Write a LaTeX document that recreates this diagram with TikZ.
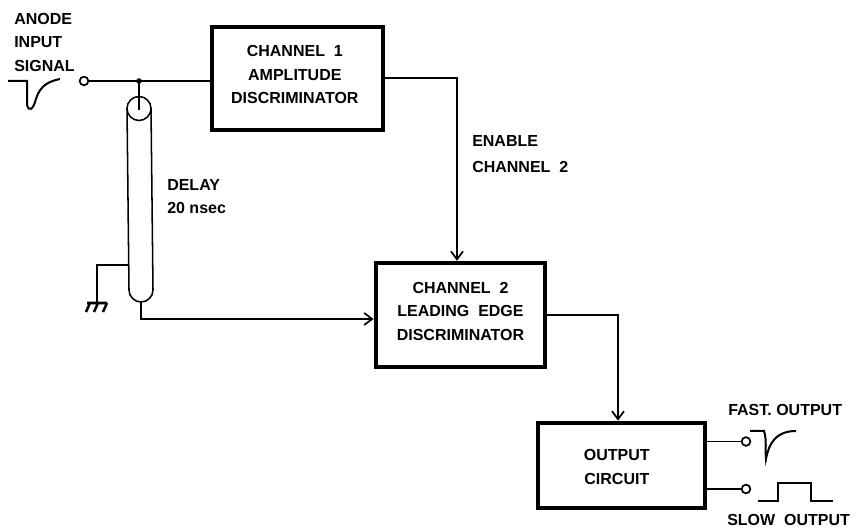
\documentclass[tikz,border=0pt]{standalone}
\usepackage{fontspec}
\setmainfont{Liberation Sans}
\usetikzlibrary{arrows.meta}
\newcommand{\boxtext}[3]{\raisebox{0pt}[\height][\dimexpr\depth+#2+#2\relax]{\hspace*{#1}\begin{tabular}{@{}c@{}}#3\end{tabular}}}
\tikzset{
  x=0.75pt,y=-0.75pt,
  blockbox/.style={draw,line width=3.3pt,minimum width=#1,align=center,font=\fontsize{12}{17.7}\selectfont\bfseries,inner sep=0pt},
  lbl/.style={font=\fontsize{12}{17.5}\selectfont\bfseries,align=left,inner sep=0pt,anchor=north west},
  wire/.style={line width=1.15pt},
  arrowwire/.style={line width=1.15pt,-{Straight Barb[length=6pt,width=9pt,line width=1.3pt]}},
  term/.style={circle,draw,line width=1.3pt,fill=white,minimum size=6.5pt,inner sep=0pt},
  pulse/.style={line width=1.5pt},
}
\begin{document}
\begin{tikzpicture}
\useasboundingbox (0,0) rectangle (857,530);
\node[blockbox=128pt,minimum height=77pt] (ch1) at (297.5,78.5) {\boxtext{-4pt}{2.25pt}{CHANNEL\ \ 1\\AMPLITUDE\\DISCRIMINATOR}};
\node[blockbox=127pt,minimum height=78pt] (ch2) at (460.5,315) {\boxtext{0pt}{2.25pt}{CHANNEL\ \ 2\\LEADING\ \ EDGE\\DISCRIMINATOR}};
\node[blockbox=125pt,minimum height=64pt] (out) at (621.5,465.5) {\boxtext{0pt}{-1.5pt}{OUTPUT\hspace*{7pt}\\CIRCUIT\hspace*{7pt}}};
\node[lbl] (anode) at (14,13) {ANODE\\INPUT\\SIGNAL};
\node[lbl,font=\fontsize{12}{19.5}\selectfont\bfseries] (en) at (472,135) {ENABLE\\CHANNEL\ \ 2};
\node[lbl] (delay) at (167,179) {DELAY\\20 nsec};
\node[lbl,anchor=west] (fast) at (728,410) {FAST. OUTPUT};
\node[lbl,anchor=west] (slow) at (727,520) {SLOW\ \ OUTPUT};
\node[term] (tin) at (84,81) {};
\node[term] (tf) at (746,441.5) {};
\node[term] (ts) at (746,489) {};
\coordinate (j) at (139,81);
\fill (j) circle (2.8);
\draw[wire] (tin) -- (j) -- (ch1.west |- j);
% delay line
\draw[wire] (127,108) -- (129,290) arc (180:0:12) -- (151,108);
\draw[wire] (139,108.5) circle (12);
\draw[wire] (j) -- (139,110);
% ground
\coordinate (g) at (97,265);
\coordinate (gnd) at (97,303);
\draw[wire] (128,265) -- (g) -- (gnd);
\draw[line width=1.9pt] (87,303) -- (107,303)
  (90,303) -- (86,312) (98,303) -- (94,312) (107,303) -- (103,312);
% connectors
\coordinate (dbot) at (141,302);
\coordinate (dturn) at (141,319);
\draw[arrowwire] (dbot) -- (dturn) -- (dturn -| ch2.west);
\coordinate (c1r) at (457,78);
\draw[arrowwire] (ch1.east |- c1r) -- (c1r) -- (c1r |- ch2.north);
\coordinate (c2r) at (618,315);
\draw[arrowwire] (ch2.east |- c2r) -- (c2r) -- (c2r |- out.north);
\draw[wire] (tf -| out.east) -- (tf);
\draw[wire] (ts -| out.east) -- (ts);
% pulses
\draw[pulse] (8,81) -- (27,81) -- (27,105) .. controls (29,112) and (33,110) .. (36,99) .. controls (40,85) and (50,81) .. (60,79);
\draw[pulse] (750,431) -- (764,431) .. controls (767,440) and (765,450) .. (766,459) .. controls (769,443) and (776,431) .. (796,431);
\draw[pulse] (758,501) -- (778,501) -- (778,483) -- (811,483) -- (811,501) -- (833,501);
\end{tikzpicture}
\end{document}
